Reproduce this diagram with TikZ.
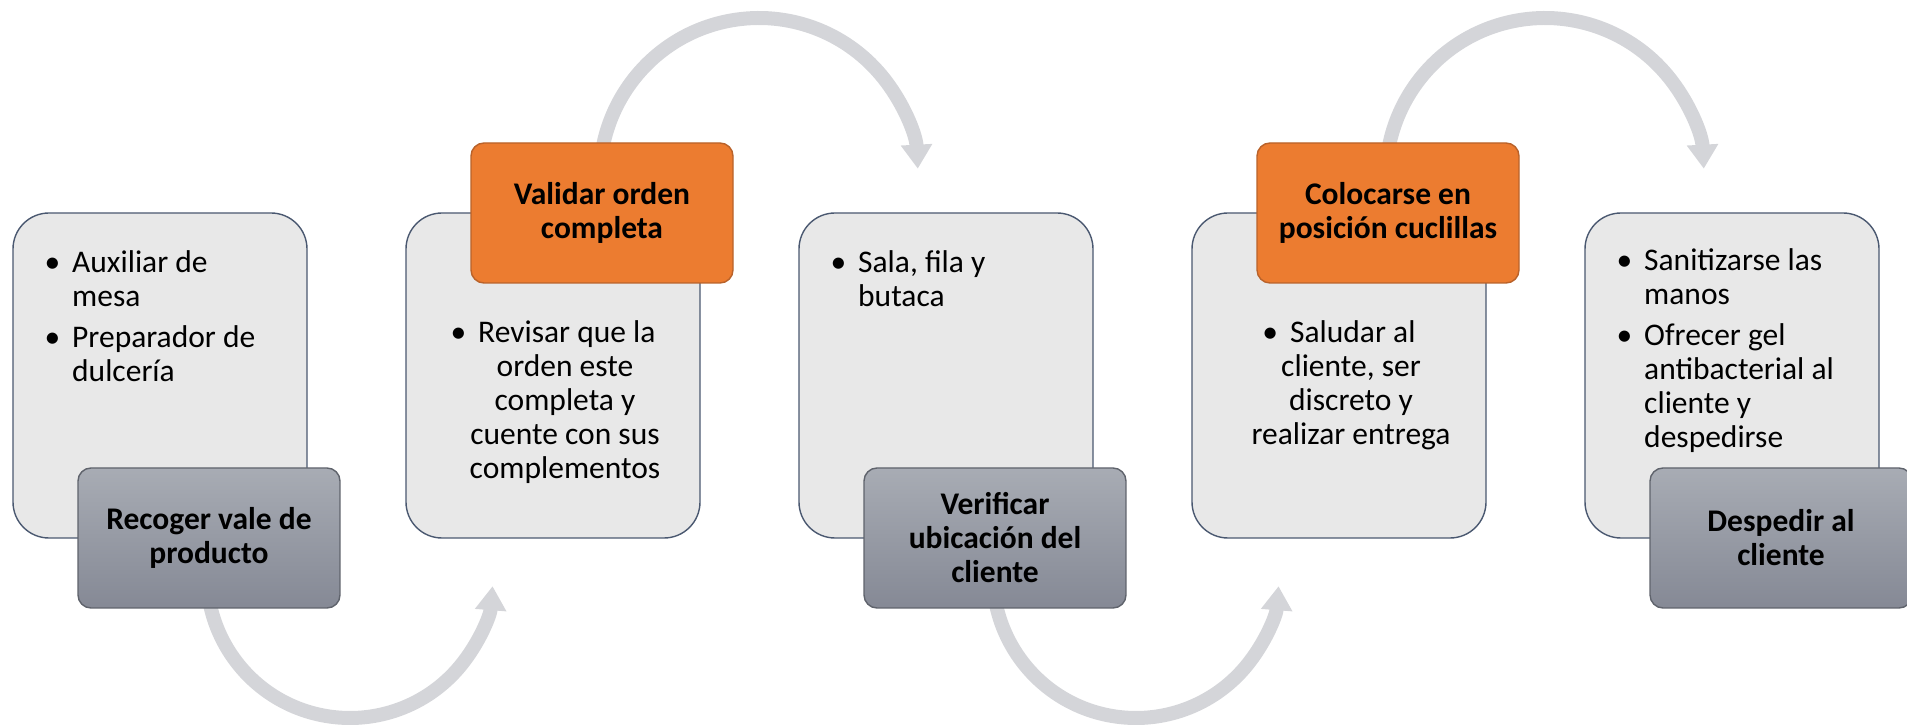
\documentclass[tikz,border=0pt]{standalone}
\usepackage{fontspec}
\setmainfont{Carlito}
\usetikzlibrary{arrows.meta,backgrounds}

\definecolor{detailFill}{HTML}{E8E8E8}
\definecolor{detailLine}{HTML}{4A5870}
\definecolor{taskTop}{HTML}{A8ACB4}
\definecolor{taskBottom}{HTML}{858995}
\definecolor{taskLine}{HTML}{5F636C}
\definecolor{checkFill}{HTML}{EC7C30}
\definecolor{checkLine}{HTML}{B9622A}
\definecolor{flowGray}{HTML}{D4D5D9}

\newcommand{\bul}{\llap{\textbullet\hspace{12pt}}}
\newcommand{\sft}{\hspace*{24pt}}

\begin{document}
\begin{tikzpicture}[
    x=1pt, y=1pt,
    font=\fontsize{31.5}{34}\selectfont,
    detail/.style={draw=detailLine, line width=1.4pt, fill=detailFill,
        rounded corners=36pt, minimum width=294pt, minimum height=325pt},
    tag/.style={line width=1.4pt, rounded corners=13pt, inner sep=0pt,
        minimum width=262pt, minimum height=140pt, align=center,
        font=\fontsize{31.5}{34}\selectfont\bfseries},
    task/.style={tag, draw=taskLine, top color=taskTop, bottom color=taskBottom},
    check/.style={tag, draw=checkLine, fill=checkFill},
    bullets/.style={align=left, inner sep=0pt},
    bulletsC/.style={align=center, inner sep=0pt},
    flow/.style={line width=14pt, draw=flowGray, -{Triangle[width=30pt,length=24pt]}}
]
\useasboundingbox (0,0) rectangle (1907,726);

% -- Detail boxes --
\node[detail] (detRecoger) at (160,350.5) {};
\node[detail] (detValidar) at (553,350.5) {};
\node[detail] (detVerificar) at (946,350.5) {};
\node[detail] (detColocarse) at (1339,350.5) {};
\node[detail] (detDespedir) at (1732,350.5) {};

% -- Step titles --
\node[task] (tagRecoger) at (209,188) {Recoger vale de\\producto};
\node[check] (tagValidar) at (602,513) {Validar orden\\completa};
\node[task] (tagVerificar) at (995,188) {Verificar\\ubicación del\\cliente};
\node[check] (tagColocarse) at (1388,513) {Colocarse en\\posición cuclillas};
\node[task] (tagDespedir) at (1781,188) {Despedir al\\cliente};

% -- Bullet texts (placed by the baseline of their last line) --
\node[bullets, anchor=base west] (txtRecoger) at (72,344)
    {\bul Auxiliar de\\mesa\\[7pt]\bul Preparador de\\dulcería};
\node[bulletsC, anchor=base] (txtValidar) at (553,247)
    {\textbullet\hspace{12pt}Revisar que la\\\sft orden este\\\sft completa y\\\sft cuente con sus\\\sft complementos};
\node[bullets, anchor=base west] (txtVerificar) at (858,419)
    {\bul Sala, fila y\\butaca};
\node[bulletsC, anchor=base] (txtColocarse) at (1339,281)
    {\textbullet\hspace{12pt}Saludar al\\\sft cliente, ser\\\sft discreto y\\\sft realizar entrega};
\node[bullets, anchor=base west] (txtDespedir) at (1644,278)
    {\bul Sanitizarse las\\manos\\[7pt]\bul Ofrecer gel\\antibacterial al\\cliente y\\despedirse};

% -- Curved flow arrows --
\begin{scope}[on background layer]
  \coordinate (midRecoger) at (350,151);
  \coordinate (midValidar) at (759,549);
  \coordinate (midVerificar) at (1136,151);
  \coordinate (midColocarse) at (1545,549);
  \draw[flow] ([shift={(170:143)}]midRecoger) arc[start angle=170, end angle=355.5, radius=143];
  \draw[flow] ([shift={(190:159)}]midValidar) arc[start angle=190, end angle=3, radius=159];
  \draw[flow] ([shift={(170:143)}]midVerificar) arc[start angle=170, end angle=355.5, radius=143];
  \draw[flow] ([shift={(190:159)}]midColocarse) arc[start angle=190, end angle=3, radius=159];
\end{scope}

\end{tikzpicture}
\end{document}
